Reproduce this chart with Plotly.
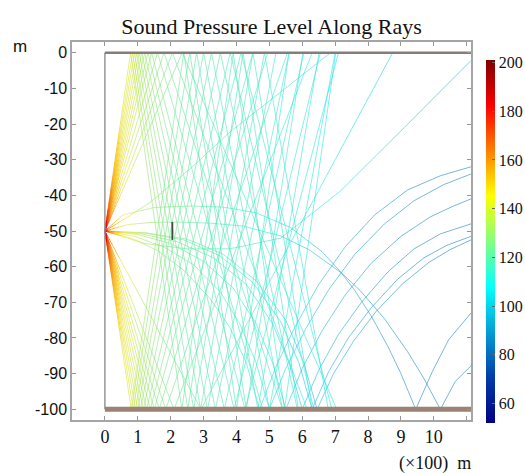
import numpy as np
import plotly.graph_objects as go
from plotly.colors import sample_colorscale

# ---------------- data ----------------
X_MAX = 11.13          # right end of the domain, in units of 100 m
SOURCE = (0.0, -50.0)  # source position

# steep rays launched upward (vertices: reflection points)
up_fan_x = [
    [0, 0.78, 2.34, 3.90, 5.46, 7.02],
    [0, 0.84, 2.52, 4.20, 5.88],
    [0, 0.90, 2.70, 4.50, 6.30],
    [0, 0.97, 2.91, 4.85, 6.79],
    [0, 1.04, 3.12, 5.20],
    [0, 1.12, 3.36, 5.60],
    [0, 1.21, 3.63, 6.05],
    [0, 1.31, 3.93, 6.55],
    [0, 1.42, 4.26, 7.10],
]
up_fan_y = [
    [-50, 0, -100, 0, -100, 0],
    [-50, 0, -100, 0, -100],
    [-50, 0, -100, 0, -100],
    [-50, 0, -100, 0, -100],
    [-50, 0, -100, 0],
    [-50, 0, -100, 0],
    [-50, 0, -100, 0],
    [-50, 0, -100, 0],
    [-50, 0, -100, 0],
]

# steep rays launched downward
down_fan_x = [
    [0, 0.80, 2.40, 4.00, 5.60],
    [0, 0.86, 2.58, 4.30, 6.02],
    [0, 0.93, 2.79, 4.65, 6.51],
    [0, 1.00, 3.00, 5.00, 7.00],
    [0, 1.08, 3.24, 5.40],
    [0, 1.17, 3.51, 5.85],
    [0, 1.27, 3.81, 6.35],
    [0, 1.38, 4.14, 6.90],
    [0, 1.50, 4.50],
]
down_fan_y = [
    [-50, -100, 0, -100, 0],
    [-50, -100, 0, -100, 0],
    [-50, -100, 0, -100, 0],
    [-50, -100, 0, -100, 0],
    [-50, -100, 0, -100],
    [-50, -100, 0, -100],
    [-50, -100, 0, -100],
    [-50, -100, 0, -100],
    [-50, -100, 0],
]

# moderate-angle rays
moderate_x = [
    [0, 1.65, 4.95],
    [0, 1.85, 5.55],
    [0, 2.10, 6.30],
    [0, 2.92, 8.75],
    [0, 1.60, 4.80],
    [0, 1.80, 5.40],
    [0, 2.05, 6.15],
    [0, 2.35, 7.05],
]
moderate_y = [
    [-50, -100, 0],
    [-50, -100, 0],
    [-50, -100, 0],
    [-50, -100, 0],
    [-50, 0, -100],
    [-50, 0, -100],
    [-50, 0, -100],
    [-50, 0, -100],
]

# upward-bending rays
bend_up_x = [
    [0, 0.6, 1.37, 2.6, 3.83, 5.35, 6.86],
    [0, 1.2, 2.5, 3.8, 5.34, 7.16, 9.1, 11.13],
]
bend_up_y = [
    [-50, -46.6, -42.0, -32.5, -22.0, -11.0, 0.0],
    [-50, -53.5, -55.0, -55.0, -52.0, -38.8, -21.0, -2.2],
]

# refracted (arched) rays
arc_x = [
    [0, 0.55, 1.5, 2.6, 3.6, 4.6, 5.64, 6.6, 7.16, 7.6, 8.1, 8.6, 9.0, 9.45, 9.95, 10.45, 11.13],
    [0, 0.7, 1.4, 2.2, 3.2, 4.2, 5.34, 6.2, 7.2, 7.77, 8.5, 9.2, 9.7, 10.2, 10.65, 11.13],
    [0, 0.8, 1.6, 2.4, 3.2, 3.8, 4.3, 4.7, 5.2, 5.8, 6.5, 7.3, 8.2, 9.2, 10.2, 11.13],
    [0, 0.9, 1.8, 2.7, 3.5, 4.1, 4.6, 5.0, 5.5, 6.1, 6.8, 7.6, 8.5, 9.4, 10.3, 11.13],
    [0, 1.0, 2.0, 3.0, 3.9, 4.6, 5.1, 5.5, 6.0, 6.6, 7.3, 8.1, 9.0, 9.9, 10.6, 11.13],
    [0, 1.1, 2.2, 3.3, 4.3, 5.1, 5.6, 6.0, 6.5, 7.1, 7.8, 8.6, 9.4, 10.2, 11.13],
    [0, 1.2, 2.4, 3.5, 4.5, 5.35, 5.9, 6.3, 6.8, 7.4, 8.1, 8.9, 9.7, 10.4, 11.13],
    [0, 1.25, 2.5, 3.6, 4.6, 5.5, 6.05, 6.45, 6.95, 7.55, 8.25, 9.05, 9.85, 10.5, 11.13],
]
arc_y = [
    [-50, -45.5, -43.4, -43.0, -43.3, -44.9, -49.0, -55.8, -61.4, -66.7, -73.9, -82.3, -90.0, -100, -89.5, -80.5, -73.0],
    [-50, -48.2, -47.6, -47.5, -47.8, -48.6, -51.4, -55.2, -61.8, -66.8, -74.6, -83.8, -91.4, -100, -92.2, -87.8],
    [-50, -52, -55.5, -61, -69, -77, -87, -100, -88, -76.5, -65, -54.5, -45.5, -38.5, -34.5, -32],
    [-50, -51.5, -54.5, -59.5, -67, -76, -87, -100, -88.5, -77.5, -66.5, -56.5, -48, -41.5, -37, -34],
    [-50, -51, -53.5, -58.5, -66, -76, -87, -100, -88.5, -78, -68, -59, -51.5, -46, -43, -41],
    [-50, -50.8, -53, -57.5, -65, -76, -87, -100, -89, -79, -70, -61.5, -55, -50.8, -48],
    [-50, -50.6, -52.5, -57, -64.5, -75.5, -87, -100, -89.5, -80, -71.5, -63.5, -57.5, -54, -51.5],
    [-50, -50.5, -52.3, -56.5, -64, -75, -87, -100, -90, -81, -72.5, -64.8, -58.8, -55.2, -52.5],
]

# sound pressure level (dB) versus horizontal distance travelled along a ray
fan_dist = [0, 0.03, 0.1, 0.25, 0.5, 0.8, 1.2, 2.0, 3.0, 4.5, 6.0, 7.5, 9.0, 11.5]
fan_spl = [200, 182, 168, 157, 148, 141, 132, 124, 119, 115, 111, 106, 101, 96]
arc_dist = [0, 0.03, 0.1, 0.25, 0.5, 0.8, 1.2, 2.0, 3.0, 4.5, 6.0, 7.5, 9.0, 11.5]
arc_spl = [200, 182, 168, 157, 148, 141, 133, 125, 119, 110, 100, 92, 86, 82]

# receiver marker
receiver_x = [2.05, 2.05]
receiver_y = [-47.5, -52.5]

# boundaries of the domain
top_x = [0, X_MAX]
top_y = [0, 0]
bottom_x = [0, X_MAX]
bottom_y = [-100, -100]
left_x = [0, 0]
left_y = [-100, 0]

# ticks
x_tickvals = list(range(0, 12))
x_ticktext = [str(v) for v in range(0, 11)] + [""]
y_tickvals = list(range(0, -101, -10))
y_ticktext = [str(v) for v in y_tickvals]
cb_tickvals = [60, 80, 100, 120, 140, 160, 180, 200]
CMIN, CMAX = 52, 201

jet = [[0, "rgb(0,0,131)"], [0.125, "rgb(0,60,170)"], [0.375, "rgb(5,255,255)"],
       [0.625, "rgb(255,255,0)"], [0.875, "rgb(250,0,0)"], [1, "rgb(128,0,0)"]]
GREY = (150, 158, 170)
MIX = 0.25     # share of grey in the drawn ray colour
ALPHA = 0.62

# ---------------- build coloured ray pieces ----------------
groups = {}


def add_ray(xs, ys, tab_d, tab_s):
    cum = 0.0
    for i in range(len(xs) - 1):
        x0, y0, x1, y1 = xs[i], ys[i], xs[i + 1], ys[i + 1]
        dx = x1 - x0
        step = 0.05 if cum < 1.0 else 0.3
        n = max(1, int(np.ceil(abs(dx) / step)))
        for k in range(n):
            a, b = k / n, (k + 1) / n
            mid = cum + 0.5 * (a + b) * dx
            s = int(round(float(np.interp(mid, tab_d, tab_s))))
            gx, gy = groups.setdefault(s, ([], []))
            gx += [x0 + a * dx, x0 + b * dx, None]
            gy += [y0 + a * (y1 - y0), y0 + b * (y1 - y0), None]
        cum += dx


for xs, ys in zip(up_fan_x, up_fan_y):
    add_ray(xs, ys, fan_dist, fan_spl)
for xs, ys in zip(down_fan_x, down_fan_y):
    add_ray(xs, ys, fan_dist, fan_spl)
for xs, ys in zip(moderate_x, moderate_y):
    add_ray(xs, ys, fan_dist, fan_spl)
for xs, ys in zip(bend_up_x, bend_up_y):
    add_ray(xs, ys, fan_dist, fan_spl)
for xs, ys in zip(arc_x, arc_y):
    add_ray(xs, ys, arc_dist, arc_spl)

fig = go.Figure()

for s in sorted(groups):
    c = sample_colorscale(jet, [(s - CMIN) / (CMAX - CMIN)])[0]
    rgb = [float(v) for v in c[c.index("(") + 1:c.index(")")].split(",")]
    mix = MIX if s < 150 else MIX * 0.3
    r, g, b = [int(round((1 - mix) * v + mix * gv)) for v, gv in zip(rgb, GREY)]
    gx, gy = groups[s]
    alpha = ALPHA if s < 150 else 0.85
    fig.add_trace(go.Scatter(x=gx, y=gy, mode="lines",
                             line=dict(color=f"rgba({r},{g},{b},{alpha})", width=1.0),
                             hoverinfo="skip", showlegend=False))

# boundaries
fig.add_trace(go.Scatter(x=left_x, y=left_y, mode="lines",
                         line=dict(color="rgb(150,150,150)", width=1.5), hoverinfo="skip", showlegend=False))
fig.add_trace(go.Scatter(x=top_x, y=top_y, mode="lines",
                         line=dict(color="rgb(135,125,120)", width=2.5), hoverinfo="skip", showlegend=False))
fig.add_trace(go.Scatter(x=bottom_x, y=bottom_y, mode="lines",
                         line=dict(color="rgb(155,130,115)", width=5), hoverinfo="skip", showlegend=False))
fig.add_trace(go.Scatter(x=receiver_x, y=receiver_y, mode="lines",
                         line=dict(color="rgb(70,70,70)", width=1.8), hoverinfo="skip", showlegend=False))

# colour bar
fig.add_trace(go.Scatter(
    x=[SOURCE[0]], y=[SOURCE[1]], mode="markers", hoverinfo="skip", showlegend=False,
    marker=dict(size=1, opacity=0, color=[CMIN], colorscale=jet, cmin=CMIN, cmax=CMAX,
                showscale=True,
                colorbar=dict(x=1.0376, xanchor="left", xpad=0, y=0.4722, yanchor="middle", ypad=0,
                              len=363, lenmode="pixels", thickness=9, outlinewidth=0,
                              tickvals=cb_tickvals, ticktext=[str(v) for v in cb_tickvals],
                              ticks="inside", ticklen=3, tickcolor="#666",
                              tickfont=dict(family="Liberation Serif", size=16, color="#111")))))

axis_common = dict(showline=True, linecolor="rgb(165,165,165)", linewidth=1.5, mirror="ticks",
                   ticks="inside", ticklen=4, tickcolor="rgb(150,150,150)", showgrid=False, zeroline=False)

fig.update_layout(
    width=525, height=473,
    margin=dict(l=72, r=54, t=42, b=53, autoexpand=False),
    paper_bgcolor="white", plot_bgcolor="white",
    title=dict(text="Sound Pressure Level Along Rays", x=0.5, xref="paper", xanchor="center",
               y=1 - 26 / 473, yref="container", yanchor="middle",
               font=dict(family="Liberation Serif", size=22, color="#111")),
    xaxis=dict(range=[-1.0, X_MAX], tickvals=x_tickvals, ticktext=x_ticktext,
               tickfont=dict(family="Liberation Serif", size=18, color="#111"), **axis_common),
    yaxis=dict(range=[-103, 3], tickvals=y_tickvals, ticktext=y_ticktext,
               tickfont=dict(family="Liberation Sans", size=16, color="#111"), **axis_common),
    annotations=[
        dict(text="m", xref="paper", yref="paper", x=-0.13, y=0.987, showarrow=False,
             xanchor="center", yanchor="middle", font=dict(family="Liberation Sans", size=17, color="#111")),
        dict(text="(\u00d7100)\u00a0\u00a0m", xref="paper", yref="paper", x=0.91, y=-0.114, showarrow=False,
             xanchor="center", yanchor="middle", font=dict(family="Liberation Serif", size=18, color="#111")),
    ],
)

fig.write_html("out.html", config={"displayModeBar": False},
               post_script="document.body.style.margin='0px';document.body.style.overflow='hidden';")
